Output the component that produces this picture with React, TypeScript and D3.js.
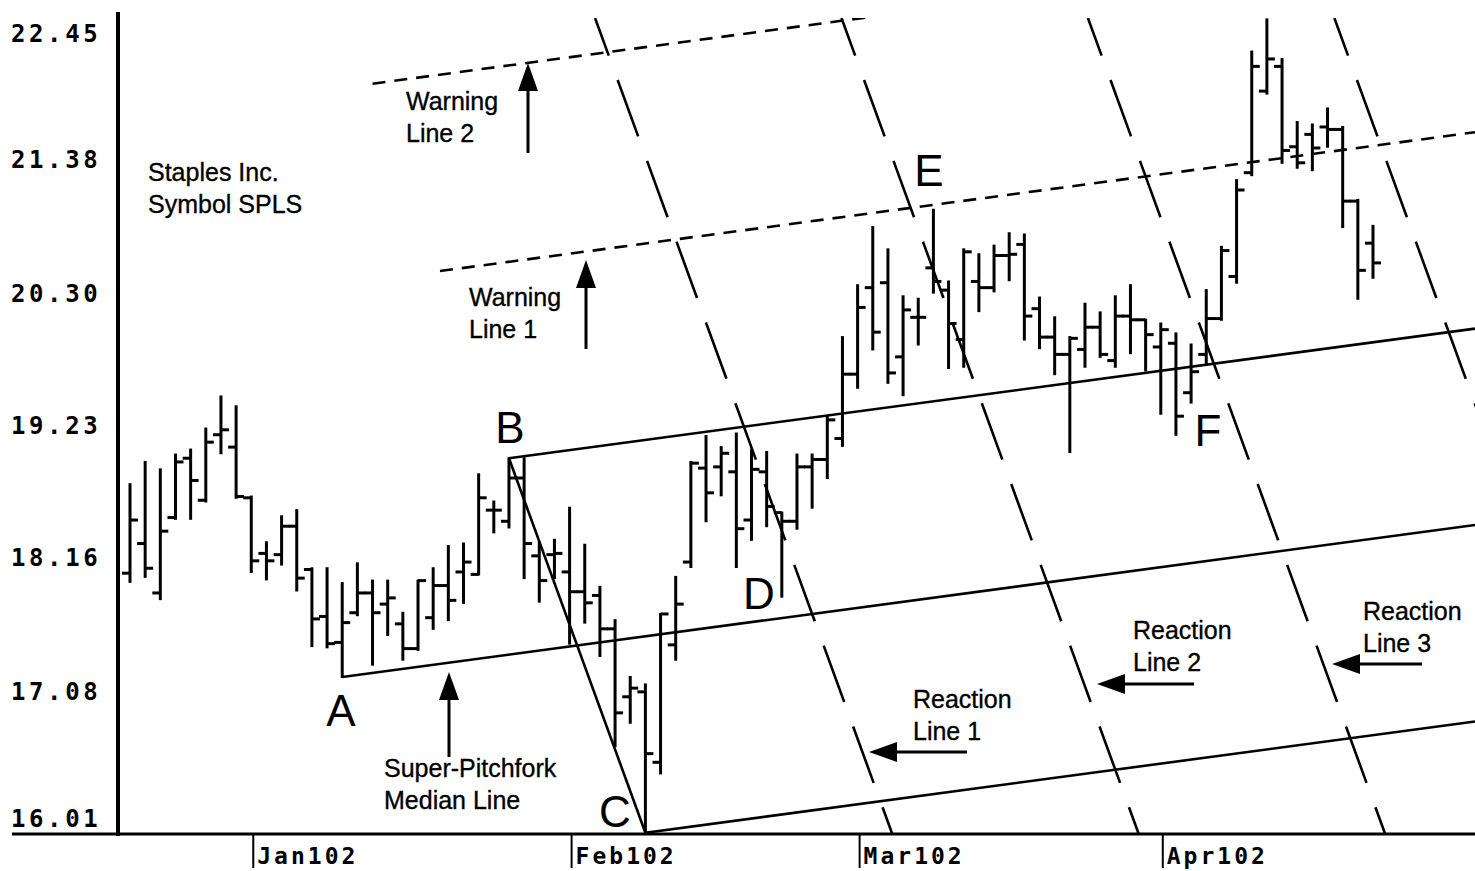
import React from 'react';
import * as d3 from 'd3';

// Staples Inc. (SPLS) daily bars, Dec 2001 - Apr 2002 (index 0 = first bar shown)
const opens = [18.03, 18.27, 17.87, 18.48, 18.96, 18.62, 19.15, 19.05, 18.64, 18.19, 18.18, 18.41, 18.06, 17.68, 17.47, 17.71, 17.87, 17.78, 17.62, 17.42, 17.67, 17.93, 18.04, 18.02, 18.54, 18.45, 18.80, 18.17, 18.18, 18.04, 17.88, 17.85, 17.58, 17.03, 17.07, 16.50, 17.45, 18.12, 18.88, 18.89, 18.85, 18.46, 18.85, 18.52, 18.45, 18.89, 18.95, 19.12, 19.64, 20.34, 20.38, 19.78, 20.10, 20.50, 20.32, 19.92, 20.39, 20.34, 20.60, 20.69, 20.17, 19.94, 19.80, 19.84, 20.02, 19.75, 20.11, 20.08, 19.86, 19.89, 19.49, 19.80, 20.09, 20.43, 21.27, 21.93, 22.13, 21.48, 21.58, 21.64, 21.62, 21.04, 20.70];
const highs = [18.75, 18.93, 18.87, 18.99, 19.03, 19.20, 19.46, 19.38, 18.65, 18.28, 18.49, 18.54, 18.07, 18.07, 17.95, 18.11, 17.97, 17.97, 17.71, 17.97, 18.07, 18.25, 18.27, 18.83, 18.61, 18.96, 18.96, 18.28, 18.30, 18.56, 18.26, 17.92, 17.65, 17.19, 17.13, 17.70, 18.00, 18.93, 19.14, 19.05, 19.16, 19.03, 19.01, 18.52, 18.99, 18.99, 19.30, 19.94, 20.36, 20.83, 20.65, 20.27, 20.25, 20.97, 20.39, 20.65, 20.61, 20.68, 20.78, 20.77, 20.26, 20.10, 19.94, 20.21, 20.14, 20.27, 20.36, 20.08, 20.05, 19.97, 19.88, 20.32, 20.67, 21.21, 22.25, 22.51, 22.19, 21.68, 21.66, 21.79, 21.64, 21.05, 20.84];
const lows = [17.96, 18.00, 17.82, 18.47, 18.47, 18.61, 19.00, 18.64, 18.04, 17.98, 18.10, 17.89, 17.44, 17.43, 17.19, 17.69, 17.29, 17.53, 17.33, 17.41, 17.58, 17.65, 17.79, 18.02, 18.36, 18.40, 17.99, 17.80, 17.99, 17.46, 17.63, 17.36, 16.63, 16.82, 15.93, 16.41, 17.33, 18.08, 18.45, 18.66, 18.08, 18.30, 18.41, 17.84, 18.39, 18.56, 18.80, 19.06, 19.53, 19.84, 19.57, 19.47, 19.88, 20.30, 19.69, 19.70, 20.15, 20.31, 20.40, 19.92, 19.85, 19.64, 19.01, 19.70, 19.78, 19.70, 19.81, 19.67, 19.32, 19.15, 19.41, 19.73, 20.08, 20.38, 21.25, 21.91, 21.35, 21.31, 21.29, 21.48, 20.83, 20.25, 20.42];
const closes = [18.46, 18.07, 18.37, 18.93, 18.78, 19.09, 19.19, 18.65, 18.13, 18.13, 18.41, 17.99, 17.66, 17.46, 17.63, 17.87, 17.71, 17.83, 17.42, 17.97, 17.93, 17.81, 18.12, 18.64, 18.54, 18.80, 18.27, 17.97, 18.19, 17.88, 17.79, 17.58, 16.90, 17.10, 16.57, 17.70, 17.78, 18.92, 18.68, 19.00, 18.39, 18.87, 18.57, 18.45, 18.89, 18.95, 19.27, 19.64, 20.18, 19.98, 19.65, 20.16, 20.10, 20.39, 20.05, 20.63, 20.34, 20.60, 20.61, 20.11, 19.94, 19.80, 19.93, 20.02, 19.80, 20.11, 20.08, 19.96, 20.00, 19.30, 19.66, 20.09, 20.64, 21.13, 22.13, 22.19, 21.45, 21.35, 21.47, 21.62, 21.04, 20.48, 20.54];

const priceTicks = [22.45, 21.38, 20.30, 19.23, 18.16, 17.08, 16.01];
const monthTickIndex = [8, 29, 48, 68];
const monthLabels = ['Jan102', 'Feb102', 'Mar102', 'Apr102'];

// Pitchfork pivots (bar indices): A = low, B = high, C = low
const pivotA = 14;
const pivotB = 25;
const pivotC = 34;
// warning lines: multiples of the fork half-width, with start bar index
const warningLevels = [2, 3];
const warningStartIdx = [20.45, 16];
// reaction lines: steps of |AM| beyond the median midpoint M
const reactionSteps = [1, 2, 3, 4];

const INK = '#000';
const SANS = '"Liberation Sans", Arial, Helvetica, sans-serif';
const MONO = '"DejaVu Sans Mono", "Liberation Mono", monospace';

function Arrow({ x1, y1, x2, y2 }: { x1: number; y1: number; x2: number; y2: number }) {
  const ang = Math.atan2(y2 - y1, x2 - x1);
  const L = 28;
  const hw = 10;
  const bx = x2 - L * Math.cos(ang);
  const by = y2 - L * Math.sin(ang);
  const px = -Math.sin(ang) * hw;
  const py = Math.cos(ang) * hw;
  return (
    <g>
      <line x1={x1} y1={y1} x2={bx} y2={by} stroke={INK} strokeWidth={3} />
      <path d={`M${x2},${y2}L${bx + px},${by + py}L${bx - px},${by - py}Z`} fill={INK} />
    </g>
  );
}

export default function App() {
  const W = 1475;
  const H = 871;
  const plotL = 118;
  const plotR = 1475;
  const plotT = 12;
  const plotB = 834;
  const lineTop = 18;

  const xs = d3.scaleLinear().domain([0, 82]).range([130, 1373]);
  const ys = d3.scaleLinear().domain([15.92, 22.57]).range([plotB, plotT]);

  const pA: [number, number] = [xs(pivotA), ys(lows[pivotA])];
  const pB: [number, number] = [xs(pivotB), ys(highs[pivotB])];
  const pC: [number, number] = [xs(pivotC), ys(lows[pivotC])];
  const pM: [number, number] = [(pB[0] + pC[0]) / 2, (pB[1] + pC[1]) / 2];
  const slope = (pM[1] - pA[1]) / (pM[0] - pA[0]);
  const med = (x: number) => pA[1] + slope * (x - pA[0]);
  const off = pB[1] - med(pB[0]);
  const fork = (k: number) => (x: number) => med(x) + k * off;
  const seg = (f: (x: number) => number, x0: number, x1: number) =>
    d3.line()([[x0, f(x0)], [x1, f(x1)]]) as string;

  const rslope = (pC[1] - pB[1]) / (pC[0] - pB[0]);
  const reactionPaths = reactionSteps.map((k) => {
    const px = pA[0] + (k + 1) * (pM[0] - pA[0]);
    const py = pA[1] + (k + 1) * (pM[1] - pA[1]);
    const xAt = (y: number) => px + (y - py) / rslope;
    return d3.line()([[xAt(lineTop), lineTop], [xAt(plotB), plotB]]) as string;
  });

  const annot = (lines: string[], x: number, y: number, key: string) => (
    <text key={key} x={x} y={y} fontFamily={SANS} fontSize={25} fill={INK} stroke={INK} strokeWidth={0.35}>
      {lines.map((t, i) => (
        <tspan key={i} x={x} dy={i === 0 ? 0 : 31.5}>{t}</tspan>
      ))}
    </text>
  );

  return (
    <svg width={W} height={H} viewBox={`0 0 ${W} ${H}`}
      style={{ position: 'absolute', left: 0, top: 0, background: '#fff', display: 'block' }}>
      <rect x={0} y={0} width={W} height={H} fill="#fff" />
      <defs>
        <clipPath id="plotClip">
          <rect x={plotL} y={lineTop} width={plotR - plotL} height={plotB - lineTop} />
        </clipPath>
      </defs>

      {/* axes */}
      <line x1={plotL} x2={plotL} y1={plotT} y2={plotB + 2} stroke={INK} strokeWidth={4} />
      <line x1={12} x2={plotR} y1={plotB} y2={plotB} stroke={INK} strokeWidth={3} />
      {priceTicks.map((v) => (
        <text key={v} x={11} y={Math.max(Math.min(ys(v) + 9, plotB - 7), plotT + 30)} fontFamily={MONO}
          fontWeight="bold" fontSize={24} letterSpacing={3.6} fill={INK}>{v.toFixed(2)}</text>
      ))}
      {monthTickIndex.map((idx, i) => (
        <g key={idx}>
          <line x1={xs(idx) + 2} x2={xs(idx) + 2} y1={plotB} y2={plotB + 34} stroke={INK} strokeWidth={2} />
          <text x={xs(idx) + 6} y={plotB + 30} fontFamily={MONO} fontWeight="bold" fontSize={23}
            letterSpacing={3} fill={INK}>{monthLabels[i]}</text>
        </g>
      ))}

      {/* pitchfork */}
      <g clipPath="url(#plotClip)" fill="none" stroke={INK} strokeWidth={2.6}>
        <path d={seg(fork(0), pA[0], plotR)} />
        <path d={seg(fork(1), pB[0], plotR)} />
        <path d={seg(fork(-1), pC[0], plotR)} />
        <path d={d3.line()([pB, pC]) as string} />
        {warningLevels.map((k, i) => (
          <path key={k} d={seg(fork(k), xs(warningStartIdx[i]), plotR)} strokeDasharray="13 9" strokeWidth={2.6} />
        ))}
        {reactionPaths.map((d, i) => (
          <path key={i} d={d} strokeDasharray="60 26" strokeDashoffset={20} strokeWidth={2.6} />
        ))}
      </g>

      {/* OHLC bars */}
      <g stroke={INK} strokeWidth={3}>
        {opens.map((o, i) => {
          const x = xs(i);
          return (
            <g key={i}>
              <line x1={x} x2={x} y1={ys(highs[i]) - 1} y2={ys(lows[i]) + 1} />
              <line x1={x - 8} x2={x} y1={ys(o)} y2={ys(o)} />
              <line x1={x} x2={x + 8} y1={ys(closes[i])} y2={ys(closes[i])} />
            </g>
          );
        })}
      </g>

      {/* pivot letters */}
      <g fontFamily={SANS} fontSize={44} fill={INK} textAnchor="middle">
        <text x={341} y={726}>A</text>
        <text x={510} y={443}>B</text>
        <text x={615} y={827}>C</text>
        <text x={759} y={609}>D</text>
        <text x={929} y={186}>E</text>
        <text x={1208} y={446}>F</text>
      </g>

      {/* annotations */}
      {annot(['Staples Inc.', 'Symbol SPLS'], 148, 181, 'title')}
      {annot(['Warning', 'Line 2'], 406, 110, 'w2')}
      {annot(['Warning', 'Line 1'], 469, 306, 'w1')}
      {annot(['Super-Pitchfork', 'Median Line'], 384, 777, 'ml')}
      {annot(['Reaction', 'Line 1'], 913, 708, 'r1')}
      {annot(['Reaction', 'Line 2'], 1133, 639, 'r2')}
      {annot(['Reaction', 'Line 3'], 1363, 620, 'r3')}

      <Arrow x1={528} y1={153} x2={528} y2={63} />
      <Arrow x1={586} y1={349} x2={586} y2={260} />
      <Arrow x1={449} y1={757} x2={449} y2={672} />
      <Arrow x1={967} y1={752} x2={869} y2={752} />
      <Arrow x1={1194} y1={684} x2={1097} y2={684} />
      <Arrow x1={1422} y1={664} x2={1332} y2={664} />
    </svg>
  );
}
